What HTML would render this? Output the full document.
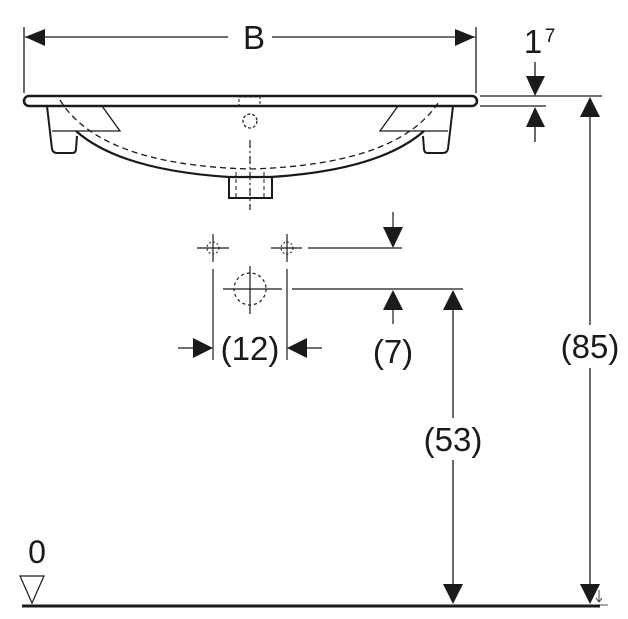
<!DOCTYPE html>
<html><head><style>body{margin:0;background:#fff}svg{display:block}text{font-family:"Liberation Sans",sans-serif;fill:#1a1a1a}</style></head><body>
<svg width="628" height="619" viewBox="0 0 628 619" xmlns="http://www.w3.org/2000/svg" stroke="#1a1a1a" fill="none">
<!-- B dimension -->
<line x1="24" y1="27" x2="24" y2="93" stroke-width="1.3"/>
<line x1="476" y1="27" x2="476" y2="93" stroke-width="1.3"/>
<line x1="25" y1="37" x2="228" y2="37" stroke-width="1.3"/>
<line x1="272" y1="37" x2="475" y2="37" stroke-width="1.3"/>
<path d="M25,37 L45,29 L45,46Z M475,37 L455,29 L455,46Z" fill="#1a1a1a" stroke="none"/>
<text x="254" y="49" font-size="33" text-anchor="middle" stroke="none">B</text>
<!-- rim -->
<rect x="24" y="96" width="453" height="10" rx="5" stroke-width="2.5"/>
<rect x="239" y="97" width="21" height="9" stroke-width="1" stroke-dasharray="3,2"/>
<!-- legs left -->
<path d="M47,106 L52,149 Q53,153 57,153 L72,153 Q76,153 76,149 L77,136" stroke-width="2"/>
<path d="M102,106 L120,131 L52,131" stroke-width="1.3"/>
<!-- legs right -->
<path d="M453,106 L448,149 Q447,153 443,153 L428,153 Q424,153 424,149 L423,136" stroke-width="2"/>
<path d="M398,106 L380,131 L448,131" stroke-width="1.3"/>
<!-- bowl -->
<path d="M76,131 Q120,170 229,177 L271,177 Q380,170 424,131" stroke-width="2.2"/>
<path d="M60,100 Q100,165 250,169 Q400,165 440,100" stroke-width="1.3" stroke-dasharray="6,4"/>
<rect x="229" y="177" width="43" height="21" stroke-width="2"/>
<line x1="236" y1="172" x2="236" y2="197" stroke-width="1" stroke-dasharray="4,3"/>
<line x1="264" y1="172" x2="264" y2="197" stroke-width="1" stroke-dasharray="4,3"/>
<circle cx="250" cy="121" r="7" stroke-width="1.2" stroke-dasharray="3,2"/>
<line x1="250" y1="140" x2="250" y2="210" stroke-width="1.2" stroke-dasharray="8,3,2,3"/>
<!-- right 1^7 -->
<line x1="480" y1="96" x2="602" y2="96" stroke-width="1.3"/>
<line x1="480" y1="106" x2="546" y2="106" stroke-width="1.3"/>
<line x1="535" y1="62" x2="535" y2="80" stroke-width="1.3"/>
<path d="M535,96 L526,76 L545,76Z M535,107 L526,127 L545,127Z M590,97 L580,117 L600,117Z" fill="#1a1a1a" stroke="none"/>
<line x1="535" y1="125" x2="535" y2="142" stroke-width="1.3"/>
<text x="533" y="53" font-size="33" text-anchor="middle" stroke="none">1</text>
<text x="550" y="42" font-size="19" text-anchor="middle" stroke="none">7</text>
<!-- 85 -->
<line x1="590" y1="115" x2="590" y2="325" stroke-width="1.3"/>
<line x1="590" y1="368" x2="590" y2="585" stroke-width="1.3"/>
<path d="M590,604 L580,584 L600,584Z" fill="#1a1a1a" stroke="none"/>
<text x="590" y="358" font-size="33" text-anchor="middle" stroke="none">(85)</text>
<path d="M599,590 L599,601 M596,598 L599,602 L602,598 M592,605 L608,605" stroke-width="0.8"/>
<!-- 53 -->
<line x1="453" y1="310" x2="453" y2="418" stroke-width="1.3"/>
<line x1="453" y1="460" x2="453" y2="585" stroke-width="1.3"/>
<path d="M453,290 L443,310 L463,310Z M453,604 L443,584 L463,584Z" fill="#1a1a1a" stroke="none"/>
<text x="453" y="451" font-size="33" text-anchor="middle" stroke="none">(53)</text>
<!-- crosshairs -->
<g stroke-width="1.2">
<line x1="197" y1="248" x2="229" y2="248"/><line x1="213" y1="234" x2="213" y2="262"/>
<line x1="271" y1="248" x2="302" y2="248"/><line x1="287" y1="234" x2="287" y2="262"/>
<line x1="213" y1="269" x2="213" y2="360"/><line x1="287" y1="269" x2="287" y2="360"/>
<line x1="308" y1="248" x2="402" y2="248"/>
<line x1="223" y1="289" x2="282" y2="289"/><line x1="250" y1="266" x2="250" y2="314"/>
<line x1="292" y1="289" x2="463" y2="289"/>
<line x1="393" y1="212" x2="393" y2="230"/>
<line x1="393" y1="305" x2="393" y2="324"/>
<line x1="178" y1="348" x2="196" y2="348"/><line x1="304" y1="348" x2="322" y2="348"/>
</g>
<circle cx="213" cy="248" r="6" stroke-width="1" stroke-dasharray="2,2"/>
<circle cx="287" cy="248" r="6" stroke-width="1" stroke-dasharray="2,2"/>
<circle cx="250" cy="289" r="16" stroke-width="1.2" stroke-dasharray="3,3"/>
<path d="M393,248 L383,227 L403,227Z M393,290 L383,310 L403,310Z M213,348 L193,338 L193,358Z M287,348 L307,338 L307,358Z" fill="#1a1a1a" stroke="none"/>
<text x="250" y="360" font-size="33" text-anchor="middle" stroke="none">(12)</text>
<text x="393" y="363" font-size="33" text-anchor="middle" stroke="none">(7)</text>
<!-- ground -->
<line x1="22" y1="606" x2="600" y2="606" stroke-width="3"/>
<path d="M20,576 L44,576 L32,603Z" stroke-width="1.2"/>
<text x="37" y="563" font-size="32" text-anchor="middle" stroke="none">0</text>
</svg>
</body></html>
